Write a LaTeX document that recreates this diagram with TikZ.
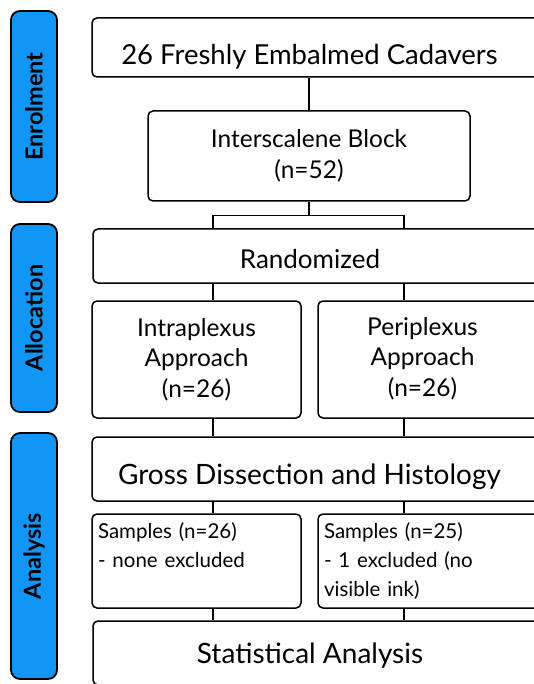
\documentclass[tikz,border=0pt]{standalone}
\usepackage{fontspec}
\setmainfont{Lato}
\usetikzlibrary{positioning}
\definecolor{phaseblue}{RGB}{18,150,246}
\newcommand{\rpad}{\hspace*{18pt}}
\newcommand{\rlines}[1]{\begin{tabular}{@{}c@{\hspace{18pt}}}#1\end{tabular}}

\begin{document}
\begin{tikzpicture}[x=1pt, y=-1pt,
    phase/.style={rectangle, draw, line width=1.8pt, rounded corners=9pt, fill=phaseblue, rotate=90, minimum height=46pt, inner sep=0pt, font=\bfseries\fontsize{23.5}{26}\selectfont},
    box/.style={rectangle, draw, line width=1.5pt, rounded corners=5pt, fill=white, inner sep=0pt, align=center},
    big/.style={box, font=\fontsize{28}{32}\selectfont, text depth=0pt},
    mid/.style={box, font=\fontsize{24.5}{30.5}\selectfont},
    small/.style={box, font=\fontsize{20.5}{29}\selectfont, align=left},
    link/.style={line width=1.5pt}]
    \clip (0,0) rectangle (534,684);
    \fill[white] (0,0) rectangle (534,684);

    % phase labels on the left
    \node[phase, minimum width=191pt] (enrol) at (34,106.5) {Enrolment};
    \node[phase, minimum width=188pt] (alloc) at (34,318) {Allocation};
    \node[phase, minimum width=246pt] (anal) at (34,556) {Analysis};

    % columns for the two arms
    \coordinate (colL) at (213,0);
    \coordinate (colR) at (404,0);

    % enrolment
    \node[big, font=\fontsize{27.5}{32}\selectfont, text height=34pt, minimum width=453pt, minimum height=59pt] (cadav) at (318.5,47.5) {26 Freshly Embalmed Cadavers\rpad};
    \node[mid, minimum width=322pt, minimum height=90pt] (block) at (309,156) {Interscalene Block\\(n=52)};

    % allocation
    \node[big, font=\fontsize{26}{30}\selectfont, text height=24pt, minimum width=452pt, minimum height=54pt] (rand) at (319,256) {Randomized\rpad};
    \node[mid, minimum width=209pt, minimum height=117pt] (intra) at (196.5,359.5) {Intraplexus\\Approach\\(n=26)};
    \node[mid, minimum width=227pt, minimum height=117pt] (peri) at (431.5,359.5) {\rlines{Periplexus\\Approach\\(n=26)}};

    % analysis
    \node[big, text height=30pt, minimum width=453pt, minimum height=64pt] (gross) at (318.5,469) {Gross Dissection and Histology\rpad};
    \node[small, minimum width=209pt, minimum height=94pt, text width=197pt] (sampA) at (196.5,561) {Samples (n=26)\\- none excluded\\\phantom{(}};
    \node[small, minimum width=227pt, minimum height=94pt, text width=215pt] (sampB) at (431.5,561) {Samples (n=25)\\- 1 excluded (no\\visible ink)};
    \node[big, minimum width=452pt, minimum height=64pt] (stats) at (319,653) {Statistical Analysis\rpad};

    % connectors
    \coordinate[below=14pt of block.south] (split);
    \draw[link] (cadav.south -| block) -- (block.north);
    \draw[link] (block.south) -- (split);
    \draw[link] (rand.north -| colL) |- (split) -| (rand.north -| colR);
    \foreach \up/\down in {rand/intra, intra/gross, gross/sampA, sampA/stats}
        \draw[link] (\up.south -| colL) -- (\down.north -| colL);
    \foreach \up/\down in {rand/peri, peri/gross, gross/sampB, sampB/stats}
        \draw[link] (\up.south -| colR) -- (\down.north -| colR);
\end{tikzpicture}
\end{document}
